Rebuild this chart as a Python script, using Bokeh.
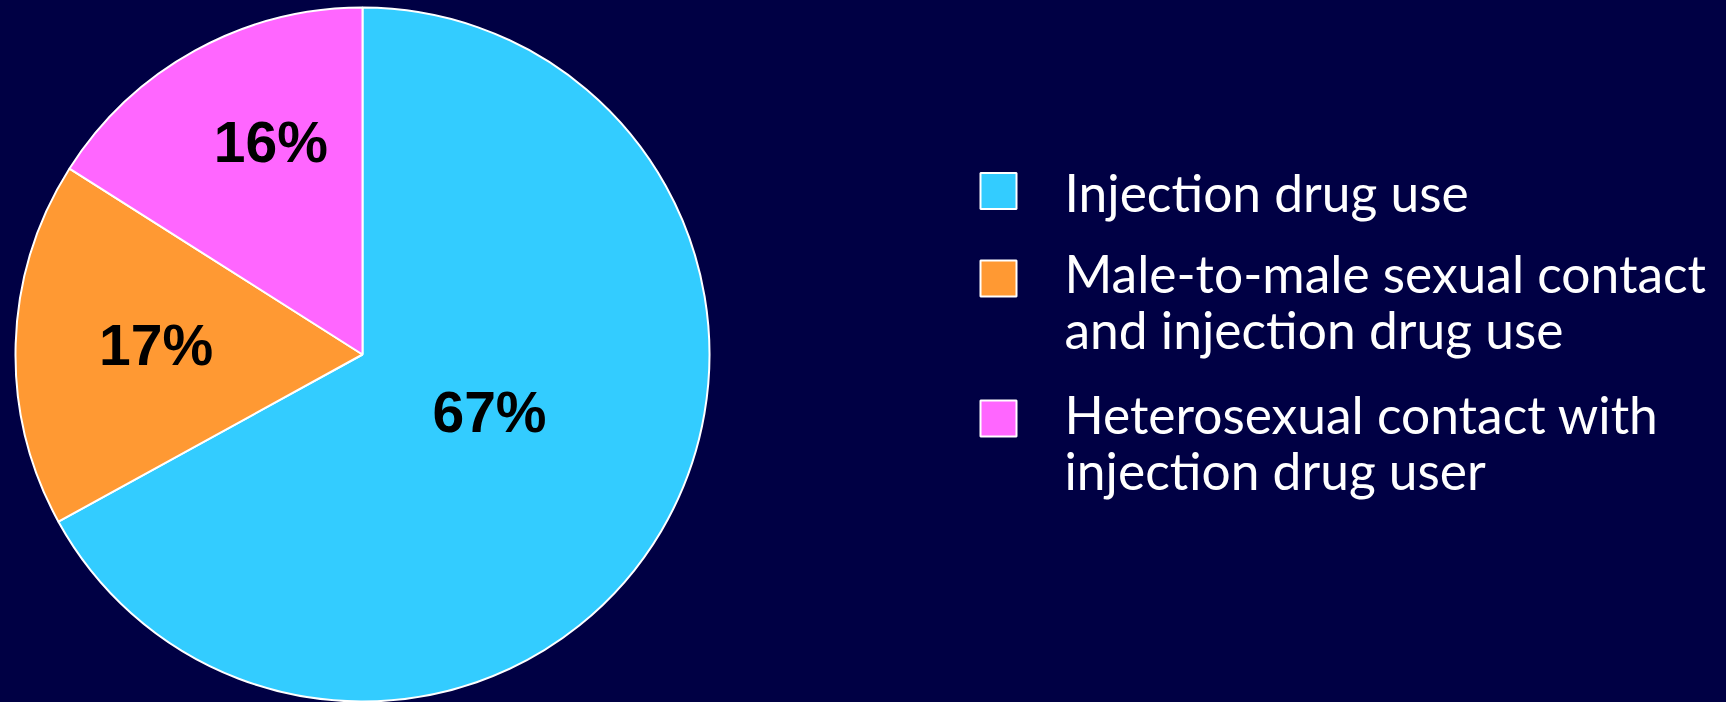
import math
from bokeh.plotting import figure
from bokeh.core.properties import value
from bokeh.embed import file_html
from bokeh.resources import INLINE

# ---- data ----
categories = [
    "Injection drug use",
    "Male-to-male sexual contact\nand injection drug use",
    "Heterosexual contact with\ninjection drug user",
]
percents = [67, 17, 16]
pct_labels = ["67%", "17%", "16%"]
colors = ["#33CCFF", "#FF9933", "#FF66FF"]

# ---- layout / style ----
BG = "#000044"
W, H = 1726, 702
cx, cy, r = 362, 348, 347
# label offsets as fraction of radius (x right, y up), baseline anchored
label_off = [(0.366, -0.167), (-0.595, 0.026), (-0.264, 0.611)]
# legend
leg_sq_x = 998
leg_sq_y = [511.5, 424, 284]
leg_txt_x = 1064
leg_txt_y = [510.3, 430, 289]
line_step = 56
LEG_FONT = "Lato"
LEG_SIZE = "51.5px"

p = figure(width=W, height=H, x_range=(0, W), y_range=(0, H),
           x_axis_type=None, y_axis_type=None, toolbar_location=None,
           output_backend="svg", min_border=0,
           background_fill_color=BG, border_fill_color=BG,
           outline_line_color=None)
p.grid.visible = False

total = float(sum(percents))
starts, ends = [], []
acc = 0.0
for v in percents:
    a0 = math.pi / 2 - 2 * math.pi * acc / total
    acc += v
    a1 = math.pi / 2 - 2 * math.pi * acc / total
    starts.append(a0)
    ends.append(a1)

p.wedge(x=cx, y=cy, radius=r, start_angle=starts, end_angle=ends,
        direction="clock", fill_color=colors, line_color="white", line_width=2)

lx = [cx + fx * r for fx, fy in label_off]
ly = [cy + fy * r for fx, fy in label_off]
p.text(x=lx, y=ly, text=pct_labels, text_align="center", text_baseline="alphabetic",
       text_font=value("Liberation Sans"), text_font_style="bold",
       text_font_size="57px", text_color="black")

# legend squares
p.rect(x=[leg_sq_x] * len(categories), y=leg_sq_y, width=36, height=36,
       width_units="screen", height_units="screen",
       fill_color=colors, line_color="white", line_width=2)

# legend text lines
tx, ty, tt = [], [], []
for i, cat in enumerate(categories):
    for j, line in enumerate(cat.split("\n")):
        tx.append(leg_txt_x)
        ty.append(leg_txt_y[i] - j * line_step)
        tt.append(line)
p.text(x=tx, y=ty, text=tt, text_align="left", text_baseline="alphabetic",
       text_font=value(LEG_FONT), text_font_size=LEG_SIZE, text_color="white")

html = file_html(p, INLINE)
html = html.replace("</head>",
                    "<style>html,body{margin:0;padding:0;overflow:hidden;background:%s;}</style></head>" % BG, 1)
open("out.html", "w").write(html)
